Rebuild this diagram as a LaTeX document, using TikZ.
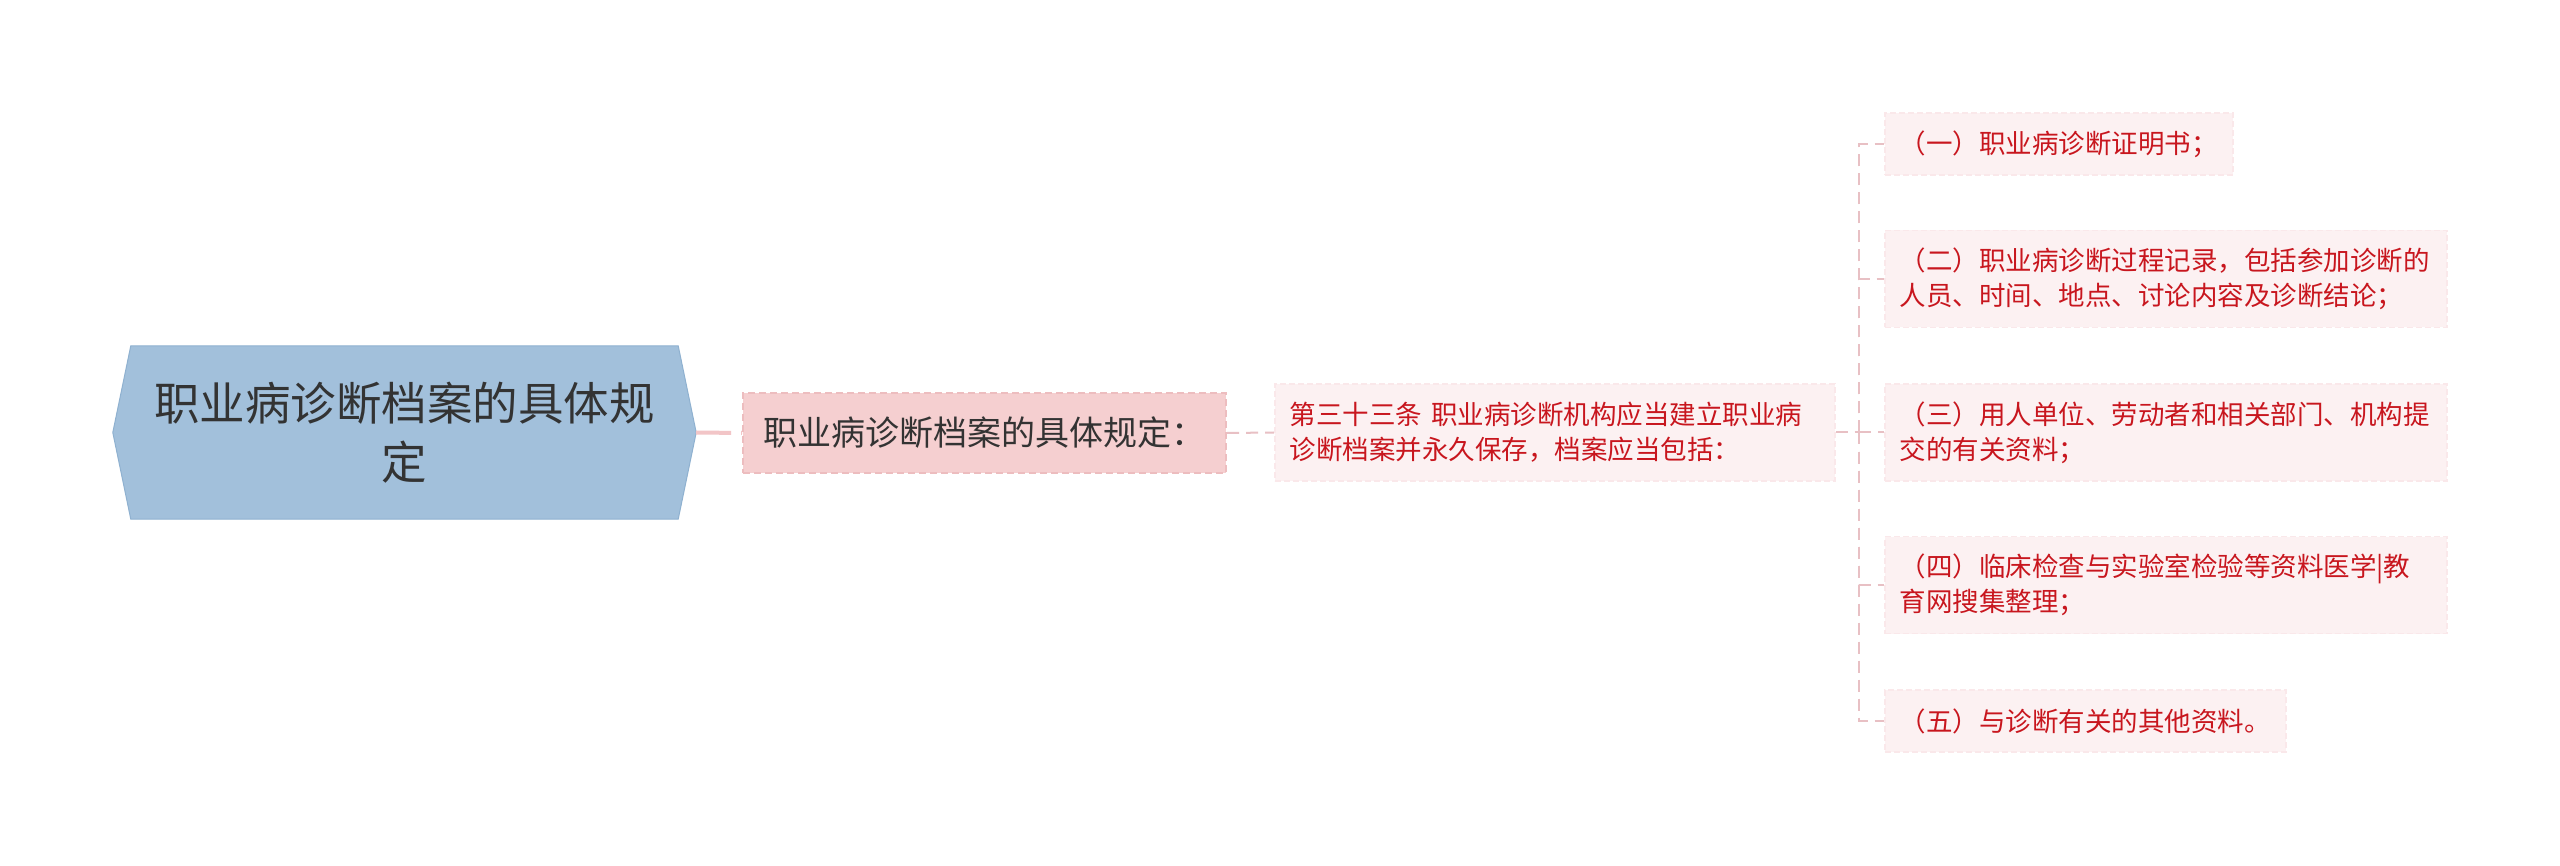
\documentclass[tikz,border=0pt]{standalone}
\usepackage{fontspec}
\newfontfamily\cjk{Noto Sans CJK SC}
\usetikzlibrary{backgrounds}
\definecolor{hexfill}{HTML}{A2C0DB}
\definecolor{hexline}{HTML}{8FB1D0}
\definecolor{pinkfill}{HTML}{F5CFD0}
\definecolor{pinkline}{HTML}{EDBDBF}
\definecolor{lightfill}{HTML}{FCF1F2}
\definecolor{lightline}{HTML}{FAE8EA}
\definecolor{redtext}{HTML}{C8161E}
\definecolor{darktext}{HTML}{333333}
\definecolor{thickcol}{HTML}{F2C5C7}
\definecolor{thincol}{HTML}{E8C0C4}
\begin{document}
\begin{tikzpicture}[x=1pt,y=-1pt,
  rootnode/.style={minimum width=583pt,minimum height=173pt,inner sep=0pt,
    align=center,text=darktext,font=\cjk\fontsize{45.5}{59}\selectfont},
  subnode/.style={draw=pinkline,line width=2pt,dash pattern=on 7pt off 4pt,
    fill=pinkfill,minimum width=483pt,minimum height=80pt,inner sep=0pt,
    text=darktext,font=\cjk\fontsize{34}{40}\selectfont},
  leafnode/.style={draw=lightline,line width=1.5pt,dash pattern=on 6pt off 3pt,
    fill=lightfill,text=redtext,font=\cjk\fontsize{26.5}{35}\selectfont,
    inner xsep=15pt,inner ysep=0pt,align=left,anchor=west},
  oneline/.style={leafnode,minimum height=62pt},
  twoline/.style={leafnode,minimum height=97pt,text width=532pt},
  thickconn/.style={draw=thickcol,line width=4pt,dash pattern=on 35pt off 10pt},
  thinconn/.style={draw=thincol,line width=2pt,dash pattern=on 12pt off 7pt}
]
\useasboundingbox (0,0) rectangle (2560,866);

\node[rootnode] (root) at (404.5,432.5) {职业病诊断档案的具体规\\定};
\node[subnode] (sub) at (984.5,433) {职业病诊断档案的具体规定：};
\node[twoline,text width=530pt] (art) at (1274,432.5) {第三十三条~职业病诊断机构应当建立职业病\\诊断档案并永久保存，档案应当包括：};

\node[oneline] (l1) at (1884,144) {（一）职业病诊断证明书；};
\node[twoline] (l2) at (1884,279) {（二）职业病诊断过程记录，包括参加诊断的\\人员、时间、地点、讨论内容及诊断结论；};
\node[twoline] (l3) at (1884,432.5) {（三）用人单位、劳动者和相关部门、机构提\\交的有关资料；};
\node[twoline] (l4) at (1884,585) {（四）临床检查与实验室检验等资料医学|教\\育网搜集整理；};
\node[oneline] (l5) at (1884,721) {（五）与诊断有关的其他资料。};

\coordinate (hub) at (1859,432.5);

\begin{scope}[on background layer]
  \fill[white] (0,0) rectangle (2560,866);
  \filldraw[fill=hexfill,draw=hexline,line width=1pt]
    (root.west) -- ([xshift=18pt]root.north west) -- ([xshift=-18pt]root.north east)
    -- (root.east) -- ([xshift=-18pt]root.south east) -- ([xshift=18pt]root.south west) -- cycle;
  \draw[thickconn] (root.east) -- (sub.west);
  \draw[thinconn] (sub.east) -- (art.west);
  \draw[thinconn] (art.east) -- (hub);
  \draw[thinconn] (hub) |- (l1.west);
  \draw[thinconn] (hub) |- (l2.west);
  \draw[thinconn] (hub) -- (l3.west);
  \draw[thinconn] (hub) |- (l4.west);
  \draw[thinconn] (hub) |- (l5.west);
\end{scope}
\end{tikzpicture}
\end{document}
